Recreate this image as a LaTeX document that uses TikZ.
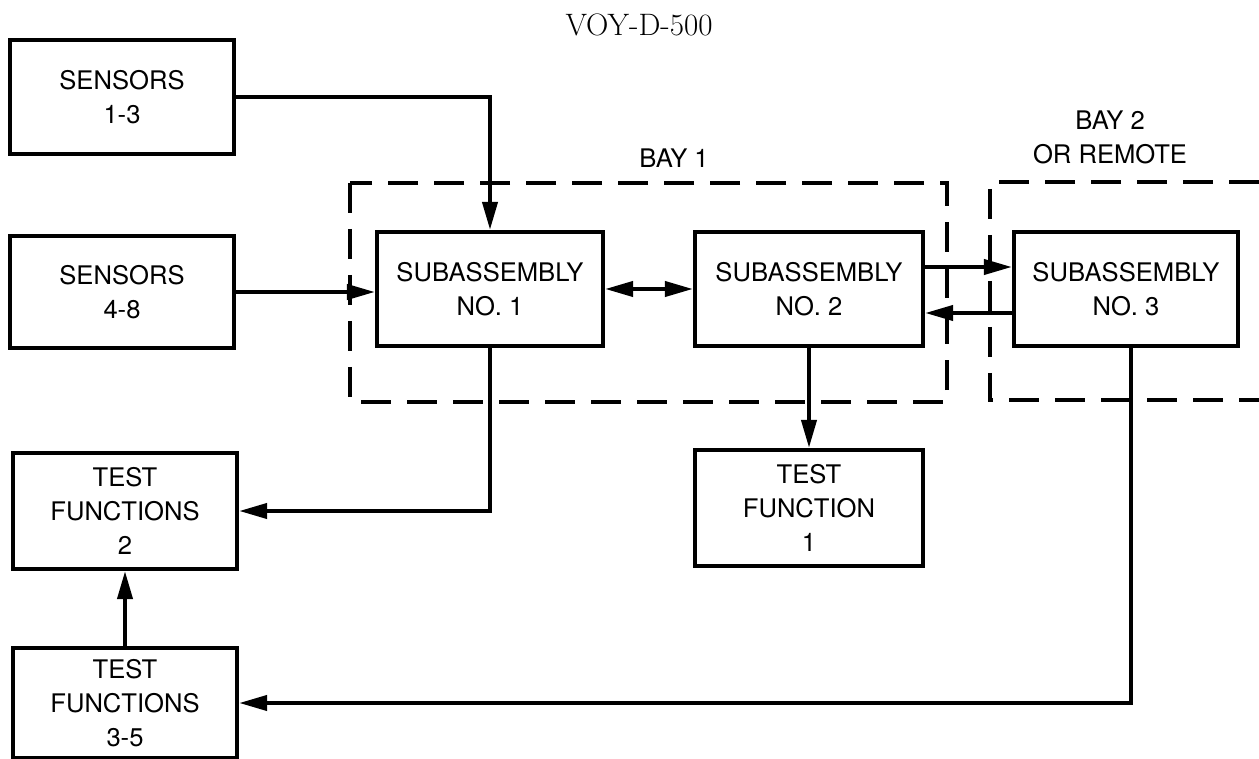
\documentclass[tikz,border=0pt]{standalone}
\usepackage{fontspec}
\setsansfont{TeX Gyre Heros}
\usetikzlibrary{arrows.meta,positioning}

\begin{document}
\begin{tikzpicture}[
  x=0.5pt,y=-0.5pt,
  blk/.style={draw,line width=2.1pt,minimum width=112pt,minimum height=57pt,inner sep=0pt,align=center,font=\sffamily\fontsize{12.8}{17}\selectfont},
  lbl/.style={align=center,font=\sffamily\fontsize{12.8}{17}\selectfont},
  arr/.style={-{Triangle[length=14pt,width=7.5pt]},line width=2pt},
  darr/.style={{Triangle[length=14pt,width=7.5pt]}-{Triangle[length=14pt,width=7.5pt]},line width=2pt},
  bay/.style={line width=2pt,dash pattern=on 15pt off 8pt}
]
  \useasboundingbox (0,0) rectangle (1259,759);
  \node[font=\rmfamily\fontsize{15.5}{17}\selectfont] (title) at (639,25) {VOY-D-500};

  % bays
  \draw[bay] (350,183) rectangle (947,402);
  \draw[bay] (1259,182) -- (990,182) -- (990,400) -- (1259,400);
  \node[lbl] (bayone) at (674,158) {BAY 1};
  \node[lbl] (baytwo) at (1110,137) {BAY 2\\OR REMOTE};

  % blocks
  \node[blk] (sens13) at (122,97) {SENSORS\\1-3};
  \node[blk,minimum height=56pt] (sens48) at (122,292) {SENSORS\\4-8};
  \node[blk,minimum width=113pt] (sub1) at (490,289) {SUBASSEMBLY\\NO. 1};
  \node[blk,minimum width=114pt] (sub2) at (809,289) {SUBASSEMBLY\\NO. 2};
  \node[blk] (sub3) at (1126,289) {SUBASSEMBLY\\NO. 3};
  \node[blk,minimum width=114pt,minimum height=58pt] (tf1) at (809,508) {TEST\\FUNCTION\\1};
  \node[blk,minimum height=58pt] (tf2) at (125,511) {TEST\\FUNCTIONS\\2};
  \node[blk,minimum height=55pt] (tf35) at (125,703) {TEST\\FUNCTIONS\\3-5};

  % connectors
  \draw[arr] (sens13.east) -| (sub1.north);
  \draw[arr] (sens48.east) -- (sens48.east -| sub1.west);
  \draw[darr] (sub1) -- (sub2);
  \draw[arr] ([yshift=11pt]sub2.east) -- ([yshift=11pt]sub3.west);
  \draw[arr] ([yshift=-12pt]sub3.west) -- ([yshift=-12pt]sub2.east);
  \draw[arr] (sub2) -- (tf1);
  \draw[arr] (sub1.south) |- (tf2.east);
  \draw[arr] (tf35) -- (tf2);
  \draw[arr] ([xshift=2.5pt]sub3.south) |- (tf35.east);
\end{tikzpicture}
\end{document}
